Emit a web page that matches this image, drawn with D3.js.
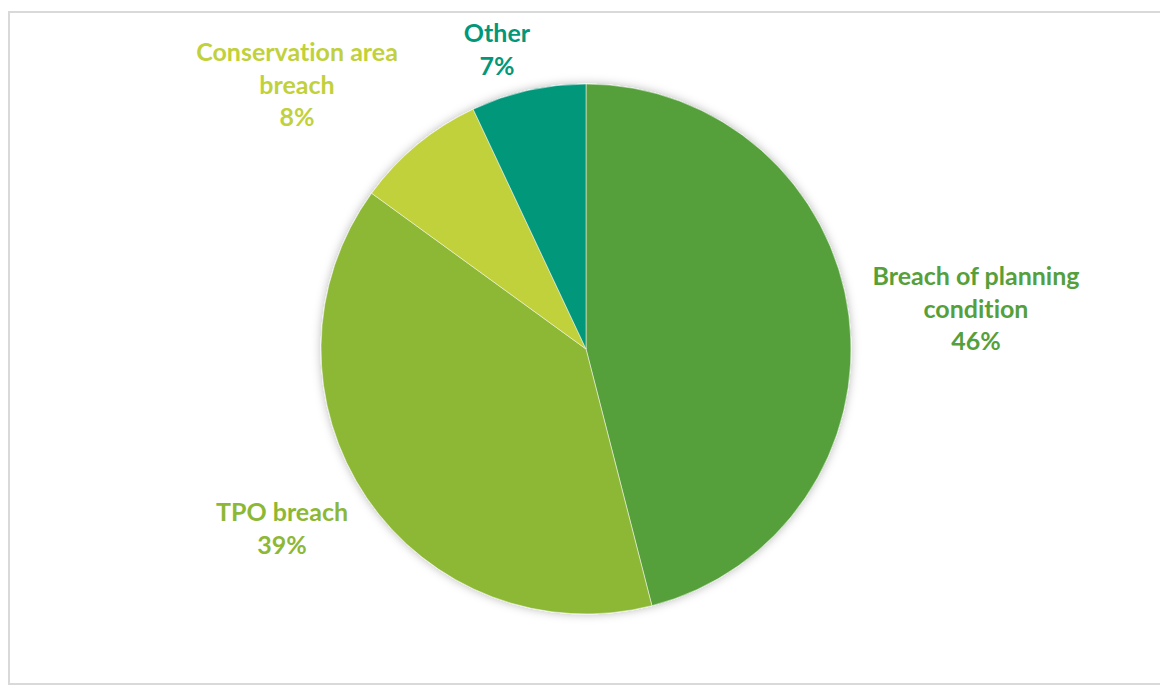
<!DOCTYPE html>
<html>
<head>
<meta charset="utf-8">
<script src="https://cdn.jsdelivr.net/npm/d3@7"></script>
<style>
  body { margin: 0; background: #fff; }
  svg { display: block; }
</style>
</head>
<body>
<div id="chart"></div>
<script>
// Enforcement cases by breach type
const categories = ['Breach of planning condition', 'TPO breach', 'Conservation area breach', 'Other'];
const values = [46, 39, 8, 7];
const colors = ['#55a03b', '#8db836', '#c1d13b', '#03977a'];
// label text lines (as printed in the chart)
const labelLines = [
  ['Breach of planning', 'condition', '46%'],
  ['TPO breach', '39%'],
  ['Conservation area', 'breach', '8%'],
  ['Other', '7%']
];

const W = 1160, H = 686;
const cx = 586, cy = 349, radius = 265;
// label block centres (layout only)
const labelPos = [[976, 309], [282, 529], [297, 85], [497, 50]];

const svg = d3.select('#chart').append('svg')
  .attr('width', W)
  .attr('height', H);

// chart area border
svg.append('rect')
  .attr('x', 9)
  .attr('y', 12)
  .attr('width', W)
  .attr('height', 672)
  .attr('fill', 'none')
  .attr('stroke', '#d9d9d9')
  .attr('stroke-width', 2);

const defs = svg.append('defs');
const f = defs.append('filter').attr('id', 'shadow')
  .attr('x', '-10%').attr('y', '-10%').attr('width', '120%').attr('height', '120%');
f.append('feDropShadow')
  .attr('dx', 0).attr('dy', 0)
  .attr('stdDeviation', 5)
  .attr('flood-color', '#000')
  .attr('flood-opacity', 0.28);

const data = categories.map((c, i) => ({ name: c, value: values[i], color: colors[i], lines: labelLines[i] }));

const pie = d3.pie().sort(null).value(d => d.value);
const arc = d3.arc().innerRadius(0).outerRadius(radius);

const g = svg.append('g')
  .attr('transform', `translate(${cx},${cy})`)
  .attr('filter', 'url(#shadow)');

g.selectAll('path')
  .data(pie(data))
  .join('path')
  .attr('d', arc)
  .attr('fill', d => d.data.color)
  .attr('stroke', '#fff')
  .attr('stroke-width', 0.5);

// data labels
const lineH = 32.5;
data.forEach((d, i) => {
  const [lx, ly] = labelPos[i];
  const n = d.lines.length;
  const t = svg.append('text')
    .attr('text-anchor', 'middle')
    .style('font-family', 'Lato, sans-serif')
    .style('font-weight', 'bold')
    .style('font-size', '25px')
    .style('font-variant-ligatures', 'none')
    .style('fill', d.color);
  d.lines.forEach((s, j) => {
    t.append('tspan')
      .attr('x', lx)
      .attr('y', ly + (j - (n - 1) / 2) * lineH + 8.5)
      .text(s);
  });
});
</script>
</body>
</html>
